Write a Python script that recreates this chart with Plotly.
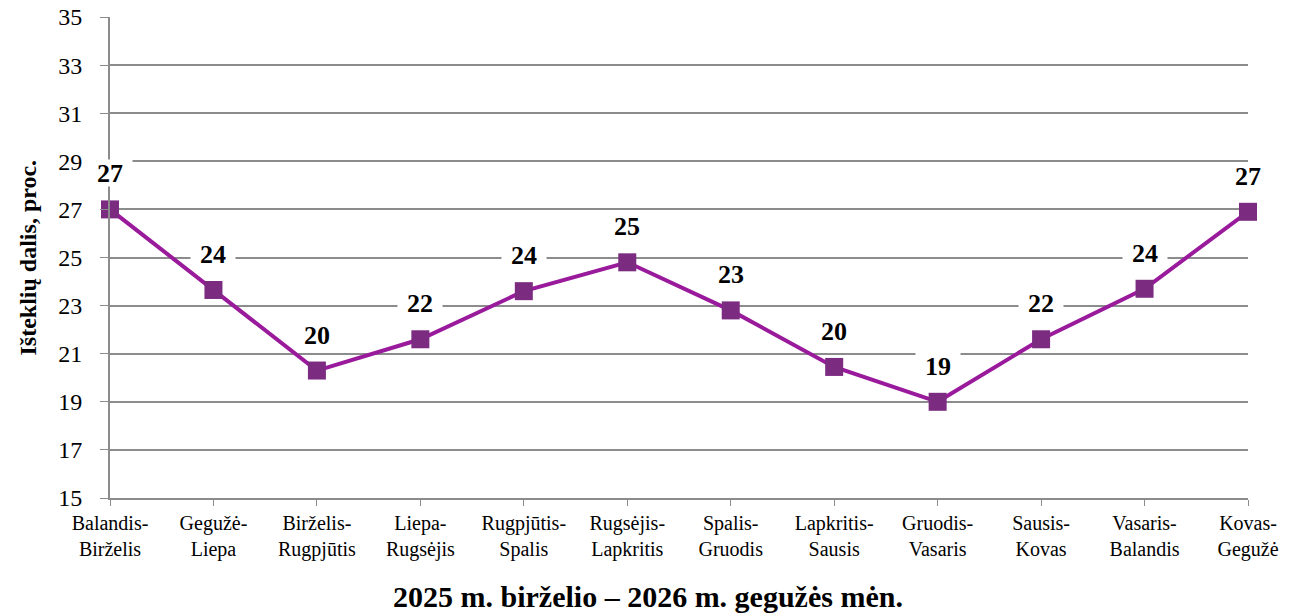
"""Resource share line chart, June 2025 - May 2026."""

import plotly.graph_objects as go

categories = [
    "Balandis-<br>Birželis", "Gegužė-<br>Liepa", "Birželis-<br>Rugpjūtis",
    "Liepa-<br>Rugsėjis", "Rugpjūtis-<br>Spalis", "Rugsėjis-<br>Lapkritis",
    "Spalis-<br>Gruodis", "Lapkritis-<br>Sausis", "Gruodis-<br>Vasaris",
    "Sausis-<br>Kovas", "Vasaris-<br>Balandis", "Kovas-<br>Gegužė",
]
values = [27.0, 23.65, 20.3, 21.6, 23.6, 24.8, 22.8, 20.45, 19.0, 21.6, 23.7, 26.9]
labels = ["27", "24", "20", "22", "24", "25", "23", "20", "19", "22", "24", "27"]
y_ticks = [15, 17, 19, 21, 23, 25, 27, 29, 31, 33, 35]

LINE_COLOR = "#9A1A9C"
MARKER_COLOR = "#7B2C80"
GRID_COLOR = "#8C8C8C"
FONT = "Liberation Serif"

fig = go.Figure()
fig.add_trace(
    go.Scatter(
        x=categories,
        y=values,
        mode="lines+markers",
        line=dict(color=LINE_COLOR, width=4),
        marker=dict(symbol="square", size=18, color=MARKER_COLOR),
        cliponaxis=False,
        showlegend=False,
    )
)

# value labels with white boxes that break the gridlines
for c, v, t in zip(categories, values, labels):
    fig.add_annotation(
        x=c, y=v, text=f"<b>{t}</b>", showarrow=False, yshift=36,
        font=dict(family=FONT, size=26, color="black"),
        bgcolor="white", width=44, height=26, borderpad=0,
    )

# axis titles as annotations so they sit exactly where the original has them
fig.add_annotation(
    x=0, y=0.5, xref="paper", yref="paper", xshift=-83,
    xanchor="center", yanchor="middle",
    text="<b>Išteklių dalis, proc.</b>", textangle=-90, showarrow=False,
    font=dict(family=FONT, size=24, color="black"),
)
fig.add_annotation(
    x=0.5, y=0, xref="paper", yref="paper", xshift=-31, yshift=-98,
    xanchor="center", yanchor="middle",
    text="<b>2025 m. birželio – 2026 m. gegužės mėn.</b>", showarrow=False,
    font=dict(family=FONT, size=30, color="black"),
)

# page body has an 8px margin, so the figure is offset by 8px
fig.update_layout(
    width=1285,
    height=605,
    margin=dict(l=102, r=45, t=9, b=115),
    plot_bgcolor="white",
    paper_bgcolor="white",
    font=dict(family=FONT, color="black"),
)
fig.update_xaxes(
    type="category",
    range=[0, len(categories) - 1],
    automargin=False,
    showgrid=False,
    showline=True,
    linecolor=GRID_COLOR,
    linewidth=2,
    ticks="outside",
    ticklen=6,
    tickwidth=1,
    tickcolor=GRID_COLOR,
    tickfont=dict(family=FONT, size=20),
)
fig.update_yaxes(
    range=[15, 35],
    tickvals=y_ticks,
    automargin=False,
    ticklabeloverflow="allow",
    showgrid=True,
    gridcolor=GRID_COLOR,
    gridwidth=2,
    zeroline=False,
    showline=True,
    linecolor=GRID_COLOR,
    linewidth=2,
    ticks="outside",
    ticklen=8,
    tickwidth=1,
    tickcolor=GRID_COLOR,
    ticklabelstandoff=13,
    tickfont=dict(family=FONT, size=24),
)

fig.write_html("out.html")
